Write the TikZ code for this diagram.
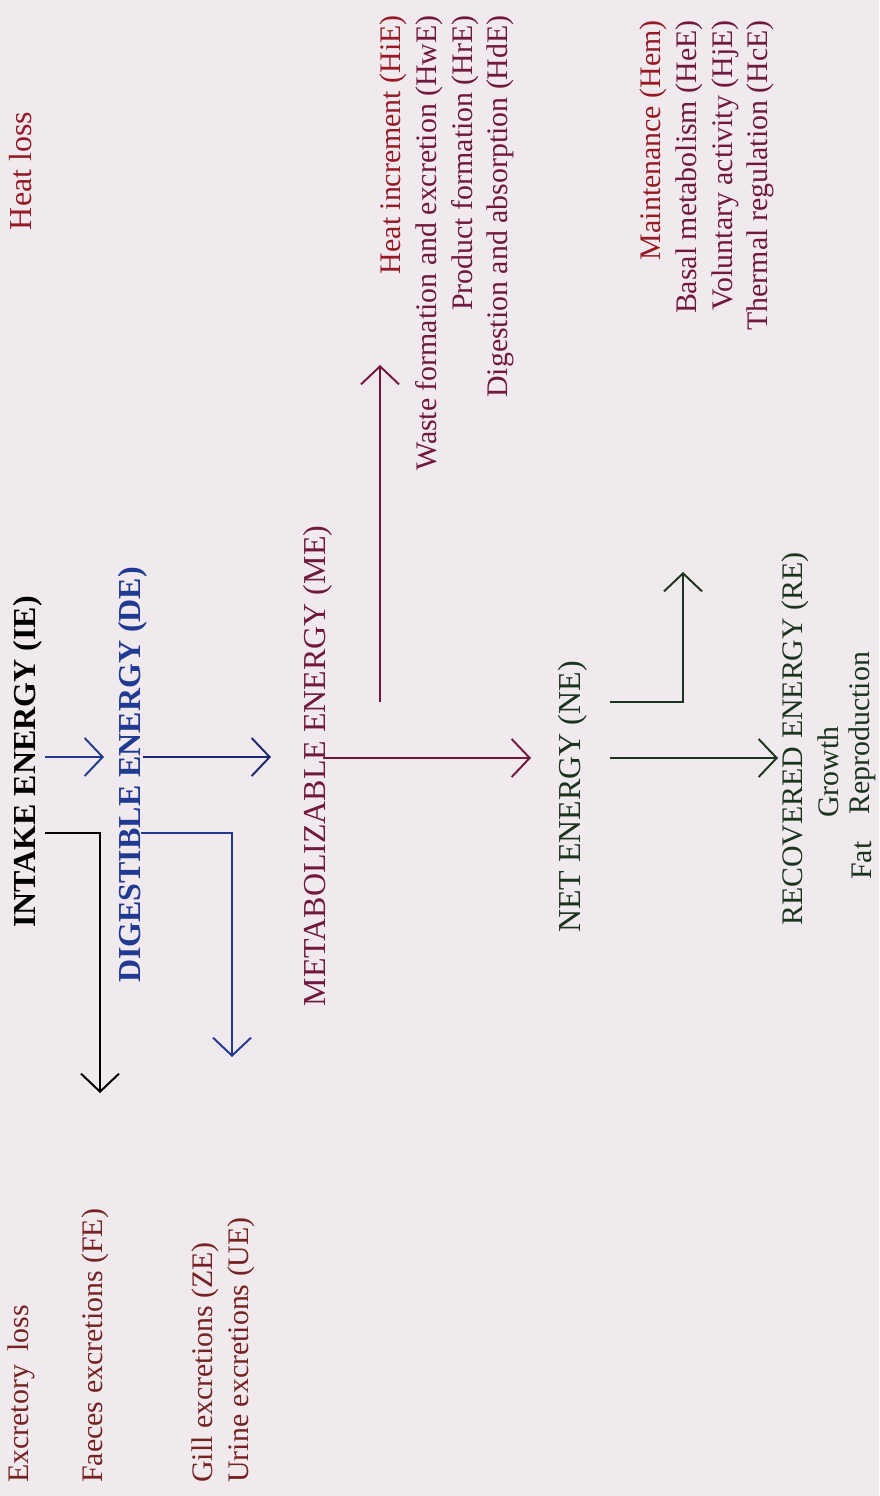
\documentclass[tikz,border=0pt]{standalone}
\usepackage{fontspec}
\setmainfont{Liberation Serif}
\usetikzlibrary{arrows.meta}

\definecolor{pagebg}{RGB}{240,233,237}
\definecolor{heatred}{RGB}{150,25,35}
\definecolor{plum}{RGB}{112,24,62}
\definecolor{exred}{RGB}{118,34,34}
\definecolor{deblue}{RGB}{32,58,148}
\definecolor{navy}{RGB}{28,40,110}
\definecolor{negreen}{RGB}{26,52,30}

\tikzset{
	lbl/.style={rotate=90, inner sep=0pt, font=\fontsize{18.2}{20.5}\selectfont},
	sublbl/.style={rotate=90, inner sep=0pt, font=\fontsize{17}{20.4}\selectfont},
	flowarrow/.style={line width=1pt, -{Straight Barb[length=0.36cm,width=0.76cm,line width=1.1pt]}},
}

\begin{document}
\begin{tikzpicture}[x=0.02cm, y=-0.02cm]
	\fill[pagebg] (0,0) rectangle (879,1496);
	\useasboundingbox (0,0) rectangle (879,1496);
	% energy levels
	\node[lbl, font=\fontsize{18.2}{20.5}\selectfont\bfseries] (ie) at (28,762) {INTAKE ENERGY (IE)};
	\node[lbl, font=\fontsize{18.2}{20.5}\selectfont\bfseries, text=deblue] (de) at (133,775) {DIGESTIBLE ENERGY (DE)};
	\node[lbl, text=plum] (me) at (318,766) {METABOLIZABLE ENERGY (ME)};
	\node[lbl, text=negreen] (ne) at (573,797) {NET ENERGY (NE)};
	\node[sublbl, text=negreen] (re) at (795,739) {RECOVERED ENERGY (RE)};
	\node[sublbl, text=negreen] (growth) at (828,772) {Growth};
	\node[sublbl, text=negreen, anchor=west] (repro) at (862,815) {Reproduction};
	\node[sublbl, text=negreen, anchor=west] (fat) at (862,880) {Fat};
	% losses
	\node[lbl, text=heatred] (heatloss) at (21,171) {Heat loss};
	\node[sublbl, text=exred, anchor=west] (exloss) at (21,1483) {Excretory\hspace{0.45em}loss};
	\node[sublbl, text=exred, anchor=west] (fe) at (95,1483) {Faeces excretions (FE)};
	\node[sublbl, text=exred, align=left, anchor=west] (zeue) at (223,1483) {Gill excretions (ZE)\\Urine excretions (UE)};
	\node[sublbl, text=plum, align=right, anchor=east] (hie) at (447,15)
		{\textcolor{heatred}{Heat increment (HiE)}\\Waste formation and excretion (HwE)\\Product formation (HrE)\\Digestion and absorption (HdE)};
	\node[sublbl, text=plum, align=right, anchor=east] (hem) at (707,20)
		{\textcolor{heatred}{Maintenance (Hem)}\\Basal metabolism (HeE)\\Voluntary activity (HjE)\\Thermal regulation (HcE)};
	% connector points
	\coordinate (ie-a) at (45,757);
	\coordinate (ie-b) at (104,757);
	\coordinate (ie-c) at (45,833);
	\coordinate (ie-d) at (100,833);
	\coordinate (ie-e) at (100,1093);
	\coordinate (de-a) at (143,757);
	\coordinate (de-b) at (271,757);
	\coordinate (de-c) at (141,833);
	\coordinate (de-d) at (232,833);
	\coordinate (de-e) at (232,1057);
	\coordinate (me-a) at (323,758);
	\coordinate (me-b) at (531,758);
	\coordinate (me-c) at (380,702);
	\coordinate (me-d) at (380,365);
	\coordinate (ne-a) at (610,702);
	\coordinate (ne-b) at (683,702);
	\coordinate (ne-c) at (683,572);
	\coordinate (ne-d) at (610,758);
	\coordinate (ne-e) at (778,758);
	% arrows
	\draw[flowarrow, color=deblue] (ie-a) to (ie-b);
	\draw[flowarrow] (ie-c) to (ie-d) to (ie-e);
	\draw[flowarrow, color=navy] (de-a) to (de-b);
	\draw[flowarrow, color=deblue] (de-c) to (de-d) to (de-e);
	\draw[flowarrow, color=plum] (me-a) to (me-b);
	\draw[flowarrow, color=plum] (me-c) to (me-d);
	\draw[flowarrow, color=negreen] (ne-a) to (ne-b) to (ne-c);
	\draw[flowarrow, color=negreen] (ne-d) to (ne-e);
\end{tikzpicture}
\end{document}
